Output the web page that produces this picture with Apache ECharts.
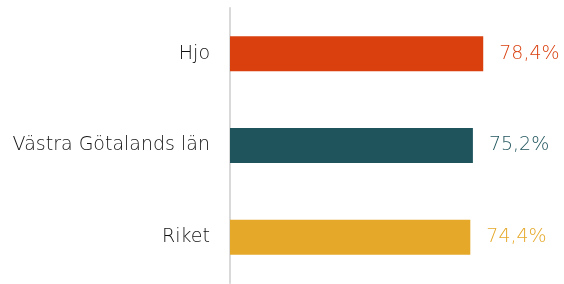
<!DOCTYPE html>
<html>
<head>
<meta charset="utf-8">
<script src="https://cdn.jsdelivr.net/npm/echarts@6/dist/echarts.min.js"></script>
<style>
  html, body { margin: 0; padding: 0; background: #fff; }
  #chart { width: 564px; height: 284px; }
</style>
</head>
<body>
<div id="chart"></div>
<script>
// kategorier uppifrån och ned
var categories = ['Hjo', 'Västra Götalands län', 'Riket'];
var values = [78.4, 75.2, 74.4];
var colors = ['#D9400E', '#1F545C', '#E5A829'];

var chart = echarts.init(document.getElementById('chart'), null, { renderer: 'canvas' });

var option = {
    animation: false,
    grid: { left: 230, right: 11, top: 8, bottom: 1 },
    xAxis: {
        type: 'value',
        min: 0,
        max: 100,
        show: false
    },
    yAxis: {
        type: 'category',
        inverse: true,
        data: categories,
        axisLine: { show: true, lineStyle: { color: '#D9D9D9', width: 2 } },
        axisTick: { show: false },
        axisLabel: {
            margin: 20,
            fontSize: 19,
            fontFamily: 'DejaVu Sans',
            fontWeight: 200,
            color: '#111111'
        }
    },
    series: [{
        type: 'bar',
        barWidth: 35,
        data: values.map(function (v, i) {
            return {
                value: v,
                itemStyle: { color: colors[i] },
                label: { color: colors[i] }
            };
        }),
        label: {
            show: true,
            position: 'right',
            distance: 16,
            fontSize: 19,
            fontFamily: 'DejaVu Sans',
            fontWeight: 200,
            formatter: function (p) {
                return p.value.toFixed(1).replace('.', ',') + '%';
            }
        }
    }]
};

chart.setOption(option);
</script>
</body>
</html>
